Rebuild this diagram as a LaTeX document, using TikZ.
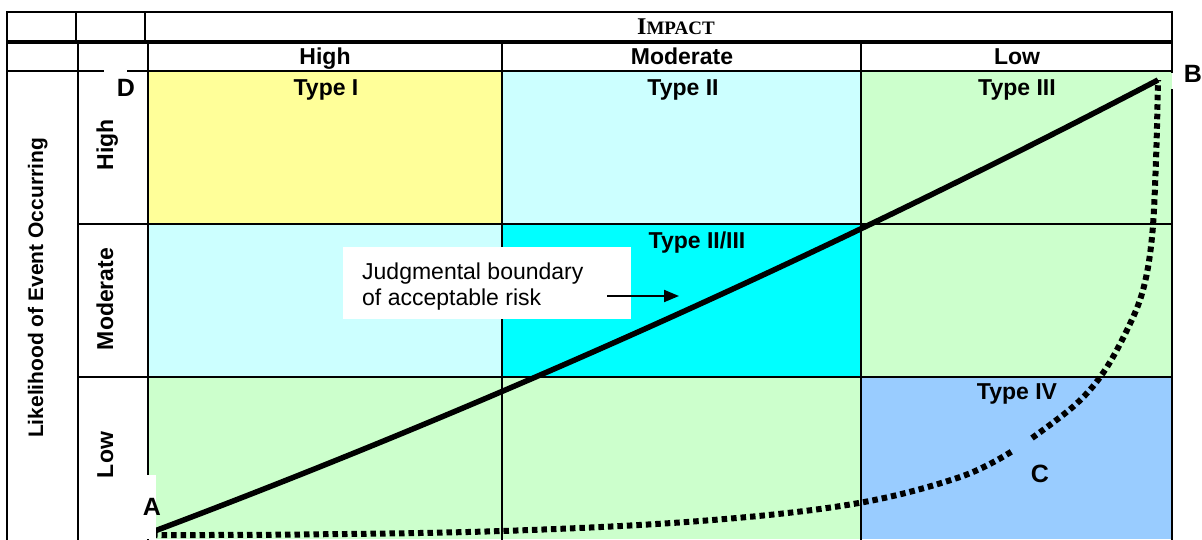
\documentclass[tikz,border=0pt]{standalone}
\usepackage{fontspec}
\setmainfont{Liberation Sans}
\newfontfamily\serifbold{Liberation Serif}[BoldFont={* Bold}]
\usetikzlibrary{arrows.meta}

\definecolor{cYellow}{HTML}{FFFF99}
\definecolor{cPaleGreen}{HTML}{CCFFCC}
\definecolor{cLightCyan}{HTML}{CCFFFF}
\definecolor{cCyan}{HTML}{00FFFF}
\definecolor{cBlue}{HTML}{99CCFF}

\tikzset{
  gridline/.style={line width=2pt, line cap=rect},
  headtext/.style={font=\fontsize{23}{26}\selectfont\bfseries, anchor=base, inner sep=0pt},
  celltext/.style={font=\fontsize{23}{26}\selectfont\bfseries, anchor=base, inner sep=0pt},
  sidetext/.style={font=\fontsize{23}{26}\selectfont\bfseries, anchor=base, rotate=90, inner sep=0pt},
  pointlabel/.style={font=\fontsize{25}{28}\selectfont\bfseries, anchor=base, inner sep=0pt},
  boundary/.style={line width=5.5pt, line cap=butt},
  envelope/.style={line width=6pt, dash pattern=on 5.5pt off 4pt, line cap=butt},
}

\begin{document}
\begin{tikzpicture}[x=1pt, y=-1pt]
\useasboundingbox (0,0) rectangle (1202,539);
\fill[white] (0,0) rectangle (1202,539);

% risk cells: likelihood rows (top to bottom) by impact columns (left to right)
\fill[cYellow]    (148,71)  rectangle (502,224);
\fill[cLightCyan] (502,71)  rectangle (861,224);
\fill[cPaleGreen] (861,71)  rectangle (1172,224);
\fill[cLightCyan] (148,224) rectangle (502,377);
\fill[cCyan]      (502,224) rectangle (861,377);
\fill[cPaleGreen] (861,224) rectangle (1172,377);
\fill[cPaleGreen] (148,377) rectangle (502,539);
\fill[cPaleGreen] (502,377) rectangle (861,539);
\fill[cBlue]      (861,377) rectangle (1172,539);

% table rules
\draw[gridline] (7,12) -- (1172,12);
\draw[line width=4pt] (7,42) -- (1172,42);
\draw[gridline] (7,71) -- (103,71);
\draw[gridline] (128,71) -- (1172,71);
\draw[gridline] (78,224) -- (1172,224);
\draw[gridline] (78,377) -- (1172,377);
\draw[gridline] (7,12) -- (7,539);
\draw[gridline] (76,12) -- (76,42);
\draw[gridline] (145,12) -- (145,42);
\draw[gridline] (78,42) -- (78,539);
\draw[gridline] (148,42) -- (148,539);
\draw[gridline] (502,42) -- (502,539);
\draw[gridline] (861,42) -- (861,539);
\draw[gridline] (1172,12) -- (1172,72);
\draw[gridline] (1172,90) -- (1172,539);

% column headings
\node[inner sep=0pt, anchor=base] (impact) at (676,34)
  {\serifbold\bfseries\fontsize{24}{26}\selectfont I\fontsize{19}{22}\selectfont MPACT};
\node[headtext] (hHigh) at (325,64) {High};
\node[headtext] (hMod)  at (682,64) {Moderate};
\node[headtext] (hLow)  at (1017,64) {Low};

% row headings
\node[sidetext, font=\fontsize{21}{24}\selectfont\bfseries] (likelihood) at (43,288)
  {Likelihood of Event Occurring};
\node[sidetext] (rHigh) at (113,145) {High};
\node[sidetext] (rMod)  at (113,299) {Moderate};
\node[sidetext] (rLow)  at (113,455) {Low};

% cell types
\node[celltext] (t1)   at (326,95)  {Type I};
\node[celltext] (t2)   at (683,95)  {Type II};
\node[celltext] (t3)   at (1017,95) {Type III};
\node[celltext] (t23)  at (697,248) {Type II/III};
\node[celltext] (t4)   at (1017,399) {Type IV};

% corner points of the curves
\coordinate (A0) at (152,532);
\coordinate (B0) at (1158,80);

% envelope curve A - C - B
\draw[envelope] plot[smooth, tension=0.6] coordinates
  {(152,535) (300,534.5) (502,531) (700,521) (853,504) (960,477) (1014,450)};
\draw[envelope] plot[smooth, tension=0.6] coordinates
  {(1032,438) (1075,405) (1103,373) (1127,330) (1143,290) (1152,237) (1156,160) (1158,80)};

% judgmental boundary A - B
\draw[boundary] (A0) .. controls (487,406) and (823,255) .. (B0);

% annotation
\fill[white] (343,247) rectangle (631,319);
\node[inner sep=0pt, anchor=base west, align=left,
      font=\fontsize{23}{26}\selectfont] (note) at (362,305)
  {Judgmental boundary\\of acceptable risk};
\coordinate (arrS) at (607,296);
\coordinate (arrE) at (679,296);
\draw[line width=2pt, -{Triangle[length=15pt, width=12pt]}] (arrS) -- (arrE);

% point labels
\fill[white] (140,475) rectangle (156,539);
\node[pointlabel] (D) at (126,96)  {D};
\node[pointlabel] (B) at (1193,82) {B};
\node[pointlabel] (A) at (152,515) {A};
\node[pointlabel] (C) at (1040,482) {C};
\end{tikzpicture}
\end{document}
